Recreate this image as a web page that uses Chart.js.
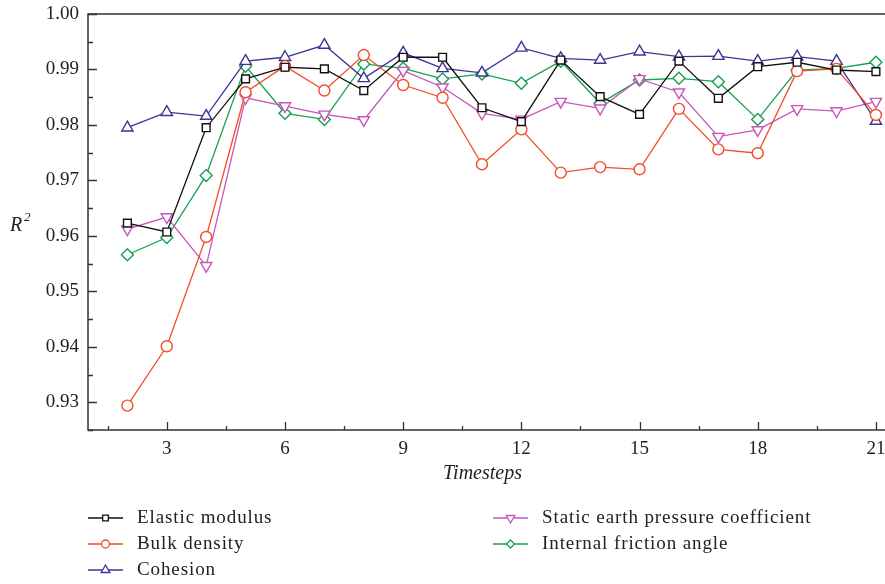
<!DOCTYPE html>
<html>
<head>
<meta charset="utf-8">
<script src="https://cdn.jsdelivr.net/npm/chart.js@4/dist/chart.umd.min.js"></script>
<style>
  html, body { margin: 0; padding: 0; background: #fff; }
  #wrap { width: 885px; height: 584px; position: relative; }
</style>
</head>
<body>
<div id="wrap"><canvas id="chart"></canvas></div>
<script>
const timesteps = [2, 3, 4, 5, 6, 7, 8, 9, 10, 11, 12, 13, 14, 15, 16, 17, 18, 19, 20, 21];

const elasticModulus = [0.9623, 0.9607, 0.9795, 0.9883, 0.9904, 0.9901, 0.9862, 0.9922, 0.9922, 0.9831,
  0.9806, 0.9917, 0.9851, 0.9819, 0.9915, 0.9848, 0.9905, 0.9913, 0.9899, 0.9896];
const bulkDensity = [0.9294, 0.9401, 0.9598, 0.9859, 0.9906, 0.9862, 0.9926, 0.9872, 0.9849, 0.9729,
  0.9792, 0.9714, 0.9724, 0.9720, 0.9829, 0.9756, 0.9749, 0.9897, 0.9901, 0.9818];
const cohesion = [0.9795, 0.9823, 0.9816, 0.9915, 0.9922, 0.9944, 0.9884, 0.9930, 0.9902, 0.9894,
  0.9939, 0.9920, 0.9917, 0.9932, 0.9923, 0.9924, 0.9915, 0.9923, 0.9915, 0.9807];
const staticEarthPressure = [0.9612, 0.9634, 0.9546, 0.9849, 0.9834, 0.9819, 0.9809, 0.9898, 0.9868, 0.9821,
  0.9810, 0.9842, 0.9830, 0.9883, 0.9859, 0.9779, 0.9791, 0.9829, 0.9825, 0.9842];
const internalFriction = [0.9566, 0.9597, 0.9709, 0.9906, 0.9821, 0.9810, 0.9910, 0.9902, 0.9883, 0.9892,
  0.9875, 0.9915, 0.9839, 0.9881, 0.9884, 0.9878, 0.9810, 0.9899, 0.9902, 0.9913];

const xTicks = [3, 6, 9, 12, 15, 18, 21];
const yTicks = [0.93, 0.94, 0.95, 0.96, 0.97, 0.98, 0.99, 1.00];

const serif = "'Liberation Serif', 'DejaVu Serif', serif";

function series(label, values, color, style, radius, rotation) {
  return {
    label,
    data: values.map((v, i) => ({ x: timesteps[i], y: v })),
    borderColor: color,
    backgroundColor: '#fff',
    borderWidth: 1.3,
    pointStyle: style,
    pointRadius: radius,
    pointRotation: rotation || 0,
    pointBorderWidth: 1.4,
    pointBackgroundColor: '#fff',
    pointBorderColor: color,
    tension: 0,
    clip: false
  };
}

const datasets = [
  series('Elastic modulus', elasticModulus, '#111111', 'rect', 5.5),
  series('Bulk density', bulkDensity, '#f24d2c', 'circle', 5.5),
  series('Cohesion', cohesion, '#3b3596', 'triangle', 6.5),
  series('Static earth pressure coefficient', staticEarthPressure, '#c955b9', 'triangle', 6.5, 180),
  series('Internal friction angle', internalFriction, '#17a050', 'rectRot', 6)
];

// legend placement: [x of sample start, row y]
const legendSpots = [[88, 518], [88, 544], [88, 570], [493, 518], [493, 544]];

const axisPlugin = {
  id: 'axisDecor',
  afterDraw(chart) {
    const ctx = chart.ctx;
    const { left, right, top, bottom } = chart.chartArea;
    const xs = chart.scales.x, ys = chart.scales.y;
    ctx.save();
    ctx.strokeStyle = '#333';
    ctx.lineWidth = 1.5;
    // frame: left, bottom, top
    ctx.beginPath();
    ctx.moveTo(885, top); ctx.lineTo(left, top); ctx.lineTo(left, bottom); ctx.lineTo(885, bottom);
    ctx.stroke();
    // inward ticks
    ctx.lineWidth = 1.3;
    ctx.beginPath();
    for (let v = 0.925; v <= 1.0001; v += 0.005) {
      const y = Math.round(ys.getPixelForValue(v)) + 0.5;
      const major = Math.abs(v * 100 - Math.round(v * 100)) < 1e-6;
      ctx.moveTo(left, y); ctx.lineTo(left + (major ? 9 : 5), y);
    }
    for (let t = 1.5; t <= 21.01; t += 1.5) {
      const x = Math.round(xs.getPixelForValue(t)) + 0.5;
      const major = Math.abs(t % 3) < 1e-6;
      ctx.moveTo(x, bottom); ctx.lineTo(x, bottom - (major ? 8 : 4));
    }
    ctx.stroke();

    // y title R^2 (horizontal)
    ctx.fillStyle = '#222';
    ctx.font = 'italic 20px ' + serif;
    ctx.textBaseline = 'alphabetic';
    ctx.textAlign = 'left';
    ctx.fillText('R', 10, 231);
    ctx.font = 'italic 13px ' + serif;
    ctx.fillText('2', 24, 221);

    // legend
    chart.data.datasets.forEach((ds, i) => {
      const [x0, y] = legendSpots[i];
      ctx.strokeStyle = ds.borderColor;
      ctx.lineWidth = 1.3;
      ctx.beginPath();
      ctx.moveTo(x0, y); ctx.lineTo(x0 + 35, y);
      ctx.stroke();
      ctx.fillStyle = '#fff';
      ctx.lineWidth = 1.3;
      Chart.helpers.drawPoint(ctx, {
        pointStyle: ds.pointStyle,
        rotation: ds.pointRotation,
        radius: ds.pointStyle === 'triangle' ? 5 : 4,
        borderWidth: 1.3
      }, x0 + 17.5, y);
      ctx.fillStyle = '#222';
      ctx.font = '19px ' + serif;
      ctx.letterSpacing = '0.9px';
      ctx.textBaseline = 'middle';
      ctx.fillText(ds.label, x0 + 49, y);
      ctx.letterSpacing = '0px';
    });
    ctx.restore();
  }
};

new Chart(document.getElementById('chart'), {
  type: 'line',
  data: { datasets },
  options: {
    responsive: true,
    maintainAspectRatio: false,
    animation: false,
    layout: { padding: { top: 14, left: 0, right: 0, bottom: 94 } },
    plugins: { legend: { display: false }, tooltip: { enabled: false } },
    scales: {
      x: {
        type: 'linear',
        min: 1,
        max: 21.03,
        afterBuildTicks(scale) { scale.ticks = xTicks.map(v => ({ value: v })); },
        afterFit(scale) { scale.height = 60; scale.paddingLeft = 0; scale.paddingRight = 0; },
        grid: { display: false, drawTicks: false },
        border: { display: false },
        ticks: { color: '#222', font: { family: serif, size: 19 }, padding: 8, maxRotation: 0 },
        title: { display: true, text: 'Timesteps', color: '#222', font: { family: serif, size: 20, style: 'italic' } }
      },
      y: {
        type: 'linear',
        min: 0.925,
        max: 1.0,
        afterBuildTicks(scale) { scale.ticks = yTicks.map(v => ({ value: v })); },
        afterFit(scale) { scale.width = 88; scale.paddingTop = 0; scale.paddingBottom = 0; },
        grid: { display: false, drawTicks: false },
        border: { display: false },
        ticks: { color: '#222', font: { family: serif, size: 19 }, padding: 9, callback: v => v.toFixed(2) }
      }
    }
  },
  plugins: [axisPlugin]
});
</script>
</body>
</html>
